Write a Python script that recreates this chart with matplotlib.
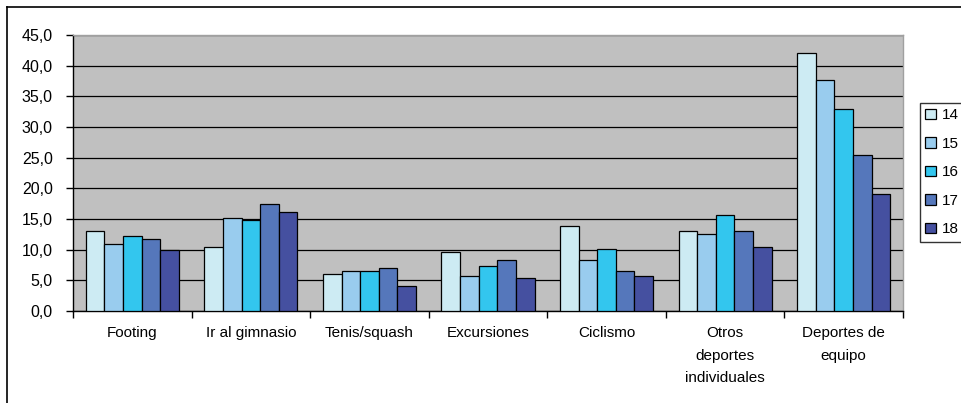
import matplotlib
matplotlib.use("Agg")
import matplotlib.pyplot as plt
from matplotlib.patches import Patch
from matplotlib.lines import Line2D
import numpy as np

categories = ["Footing", "Ir al gimnasio", "Tenis/squash", "Excursiones",
              "Ciclismo", "Otros\ndeportes\nindividuales", "Deportes de\nequipo"]
series_names = ["14", "15", "16", "17", "18"]
v14 = [13.0, 10.4, 6.1, 9.6, 13.9, 13.1, 42.0]
v15 = [10.9, 15.2, 6.6, 5.7, 8.3, 12.6, 37.7]
v16 = [12.2, 14.8, 6.5, 7.4, 10.1, 15.6, 32.9]
v17 = [11.7, 17.4, 7.0, 8.3, 6.5, 13.1, 25.5]
v18 = [10.0, 16.1, 4.0, 5.3, 5.7, 10.4, 19.1]
series = [v14, v15, v16, v17, v18]
colors = ["#CDEBF3", "#99CCEE", "#33C6EE", "#5577BB", "#4550A0"]
yticks = [0, 5, 10, 15, 20, 25, 30, 35, 40, 45]

plt.rcParams['font.family'] = ['Liberation Sans', 'DejaVu Sans']

fig = plt.figure(figsize=(9.61, 4.03), dpi=100)
ax = fig.add_axes([73/961, 1-311/403, (903-73)/961, (311-35)/403])
ax.set_facecolor("#C0C0C0")

n = len(series)
bw = 0.157
x = np.arange(len(categories)) + 0.5
for i, (vals, c) in enumerate(zip(series, colors)):
    offs = (i - (n-1)/2) * bw
    ax.bar(x + offs, vals, width=bw, color=c, edgecolor="black", linewidth=0.9,
           zorder=3, label=series_names[i])

ax.set_xlim(0, len(categories))
ax.set_ylim(0, 45)
ax.set_yticks(yticks)
ax.set_yticklabels([f"{t:.1f}".replace(".", ",") for t in yticks], fontsize=11.5)
ax.yaxis.grid(True, color="black", linewidth=0.9, zorder=1)
ax.set_axisbelow(True)

ax.set_xticks(np.arange(len(categories)+1))
ax.set_xticklabels([])
ax.set_xticks(x, minor=True)
ax.set_xticklabels(categories, minor=True, fontsize=11, linespacing=1.75,
                   va="top")
ax.tick_params(axis="x", which="minor", length=0, pad=11)
ax.tick_params(axis="x", which="major", length=5, width=1, direction="out")
ax.tick_params(axis="y", length=5, width=1, direction="out", pad=9.5)

for s in ["left", "bottom"]:
    ax.spines[s].set_color("black")
    ax.spines[s].set_linewidth(1)
for s in ["top", "right"]:
    ax.spines[s].set_color("#A0A0A0")
    ax.spines[s].set_linewidth(1)

# Outer chart frame
fig.add_artist(Line2D([7/961, 1.2], [1-7/403, 1-7/403], transform=fig.transFigure,
                      color="black", linewidth=1.2))
fig.add_artist(Line2D([7/961, 7/961], [1-7/403, -0.2], transform=fig.transFigure,
                      color="black", linewidth=1.2))

handles = [Patch(facecolor=c, edgecolor="black", linewidth=0.9) for c in colors]
leg = fig.legend(handles, series_names, loc="upper left",
                 bbox_to_anchor=(920/961, 1-103/403), fontsize=11,
                 frameon=True, fancybox=False, edgecolor="black",
                 handlelength=0.7, handleheight=0.7, handletextpad=0.4,
                 labelspacing=0.95, borderpad=0.35, borderaxespad=0)
leg.get_frame().set_linewidth(1)

fig.savefig("out.png", dpi=100)
